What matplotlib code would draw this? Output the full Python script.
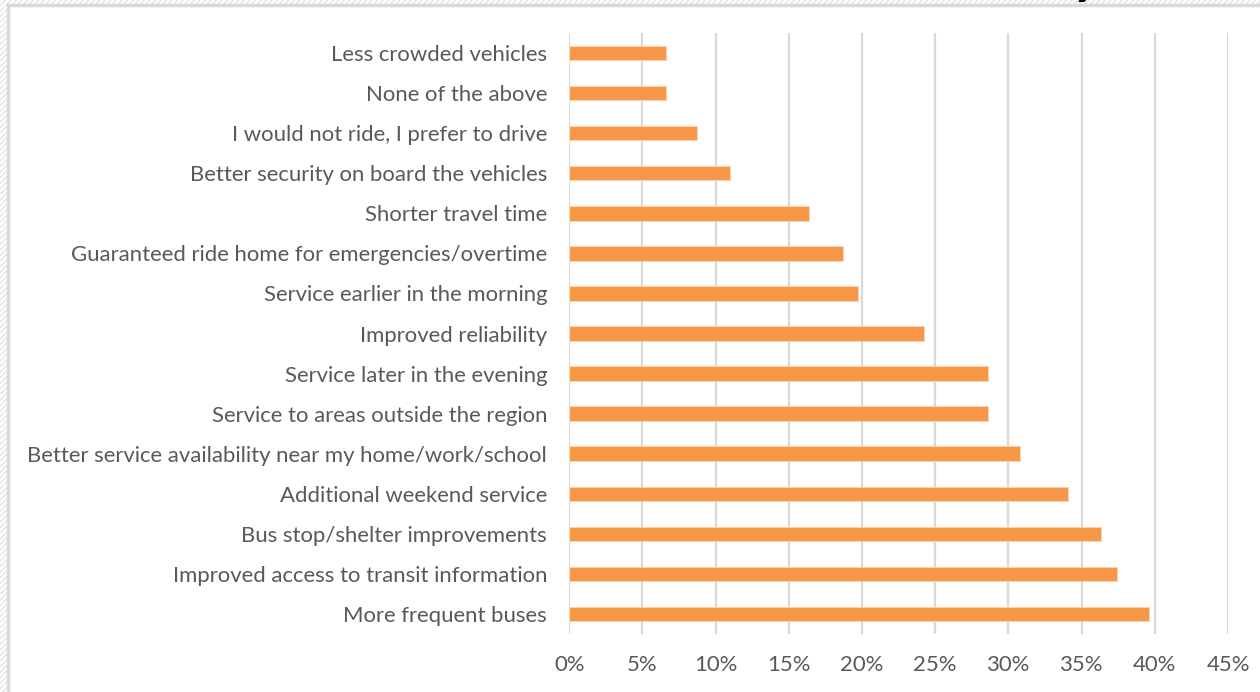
import matplotlib
matplotlib.use("Agg")
import matplotlib.pyplot as plt
from matplotlib.patches import Rectangle
from matplotlib.ticker import PercentFormatter

categories = [
    "More frequent buses",
    "Improved access to transit information",
    "Bus stop/shelter improvements",
    "Additional weekend service",
    "Better service availability near my home/work/school",
    "Service to areas outside the region",
    "Service later in the evening",
    "Improved reliability",
    "Service earlier in the morning",
    "Guaranteed ride home for emergencies/overtime",
    "Shorter travel time",
    "Better security on board the vehicles",
    "I would not ride, I prefer to drive",
    "None of the above",
    "Less crowded vehicles",
]
values = [39.6, 37.4, 36.3, 34.1, 30.8, 28.6, 28.6, 24.2, 19.7, 18.7, 16.4, 11.0, 8.7, 6.6, 6.6]
x_ticks = [0, 5, 10, 15, 20, 25, 30, 35, 40, 45]

W, H = 1260, 692
fig = plt.figure(figsize=(W / 100, H / 100), dpi=100)
plt.rcParams['font.family'] = ['Lato', 'DejaVu Sans']

# hatched outer background and framed chart area
bg = Rectangle((0, 0), 1, 1, transform=fig.transFigure, facecolor='white',
               edgecolor='#e4e4e4', hatch='//////', linewidth=0, zorder=-3)
fig.patches.append(bg)
frame = Rectangle((8 / W, -0.01), 1.1, 1 - 5 / H + 0.01, transform=fig.transFigure,
                  facecolor='white', edgecolor='#d9d9d9', linewidth=2.5, zorder=-2)
fig.patches.append(frame)

# cut-off title fragment at the top
fig.text(1086 / W, 1 + 7 / H, "y", fontsize=40, fontweight='bold', color='black',
         ha='center', va='baseline')

ax = fig.add_axes([569.3 / W, 1 - 634 / H, (1228 - 569.3) / W, (634 - 33) / H])
ax.set_facecolor('none')
y = list(range(len(categories)))
ax.barh(y, values, height=0.36, color='#F79646', edgecolor='#fbd2b0', linewidth=0.8, zorder=3)
ax.set_xlim(0, 45)
ax.set_ylim(-0.5, len(categories) - 0.5)
ax.set_xticks(x_ticks)
ax.xaxis.set_major_formatter(PercentFormatter(decimals=0))
ax.set_yticks(y)
ax.set_yticklabels(categories)
ax.grid(axis='x', color='#d9d9d9', linewidth=1.6, zorder=0)
for s in ax.spines.values():
    s.set_visible(False)
ax.tick_params(axis='both', length=0, labelsize=15.9, labelcolor='#595959')
ax.tick_params(axis='y', pad=16)
ax.tick_params(axis='x', pad=15)

fig.savefig("out.png", dpi=100)
